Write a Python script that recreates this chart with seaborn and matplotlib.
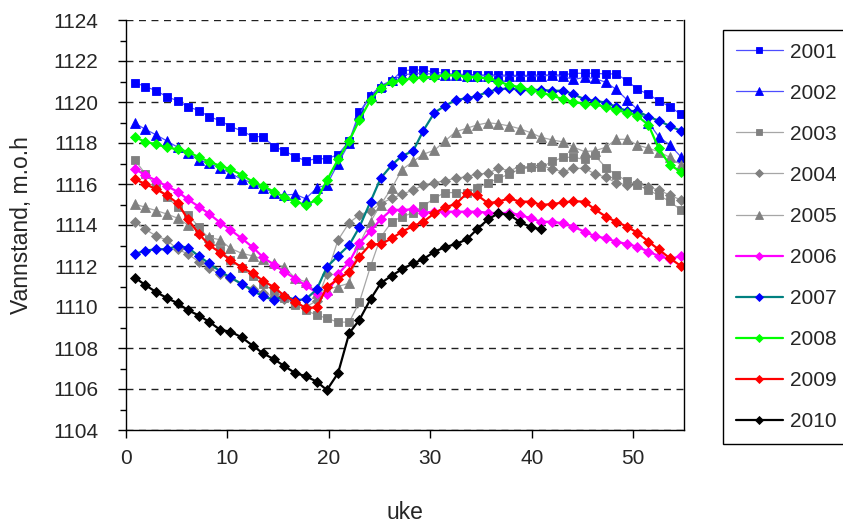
import numpy as np
import pandas as pd
import matplotlib
matplotlib.use("Agg")
import matplotlib.pyplot as plt
import seaborn as sns
from matplotlib.ticker import MultipleLocator

# x positions (uke) of the weekly readings
uke = [0.9, 1.9, 3.0, 4.0, 5.1, 6.1, 7.2, 8.2, 9.3, 10.3,
       11.4, 12.5, 13.5, 14.6, 15.6, 16.7, 17.7, 18.8, 19.8, 20.9,
       22.0, 23.0, 24.1, 25.1, 26.2, 27.2, 28.3, 29.3, 30.4, 31.4,
       32.5, 33.6, 34.6, 35.7, 36.7, 37.8, 38.8, 39.9, 40.9, 42.0,
       43.1, 44.1, 45.2, 46.2, 47.3, 48.3, 49.4, 50.4, 51.5, 52.5,
       53.6, 54.7]

v2001 = [1120.95, 1120.75, 1120.55, 1120.26, 1120.06, 1119.77, 1119.58, 1119.28, 1119.09, 1118.80,
         1118.60, 1118.31, 1118.31, 1117.82, 1117.62, 1117.33, 1117.14, 1117.23, 1117.23, 1117.43,
         1118.10, 1119.50, 1120.30, 1120.70, 1121.04, 1121.53, 1121.56, 1121.56, 1121.45, 1121.40,
         1121.35, 1121.35, 1121.32, 1121.32, 1121.32, 1121.30, 1121.30, 1121.30, 1121.32, 1121.32,
         1121.32, 1121.40, 1121.40, 1121.40, 1121.37, 1121.37, 1121.04, 1120.62, 1120.38, 1120.06,
         1119.77, 1119.40]
v2002 = [1118.96, 1118.67, 1118.39, 1118.11, 1117.79, 1117.50, 1117.17, 1117.01, 1116.77, 1116.52,
         1116.23, 1116.06, 1115.82, 1115.55, 1115.46, 1115.50, 1115.28, 1115.80, 1115.97, 1117.00,
         1118.00, 1119.40, 1120.30, 1120.80, 1121.05, 1121.30, 1121.40, 1121.40, 1121.35, 1121.30,
         1121.30, 1121.28, 1121.28, 1121.28, 1121.28, 1121.25, 1121.25, 1121.25, 1121.28, 1121.30,
         1121.25, 1121.10, 1121.20, 1121.15, 1120.96, 1120.62, 1120.10, 1119.64, 1119.00, 1118.31,
         1117.90, 1117.33]
v2003 = [1117.15, 1116.50, 1115.90, 1115.35, 1114.90, 1114.50, 1113.90, 1113.30, 1112.80, 1112.30,
         1111.90, 1111.50, 1111.10, 1110.80, 1110.45, 1110.10, 1109.84, 1109.61, 1109.45, 1109.26,
         1109.26, 1110.23, 1111.98, 1113.40, 1114.16, 1114.40, 1114.60, 1114.93, 1115.30, 1115.58,
         1115.58, 1115.58, 1115.79, 1116.06, 1116.28, 1116.49, 1116.72, 1116.81, 1116.81, 1117.10,
         1117.30, 1117.30, 1117.20, 1117.40, 1116.80, 1116.45, 1116.15, 1115.95, 1115.70, 1115.45,
         1115.15, 1114.73]
v2004 = [1114.16, 1113.79, 1113.46, 1113.27, 1112.81, 1112.59, 1112.20, 1111.90, 1111.60, 1111.40,
         1111.10, 1110.90, 1110.70, 1110.50, 1110.40, 1110.20, 1110.00, 1110.30, 1111.60, 1113.27,
         1114.11, 1114.49, 1114.70, 1115.05, 1115.30, 1115.50, 1115.70, 1115.95, 1116.06, 1116.16,
         1116.28, 1116.36, 1116.49, 1116.52, 1116.77, 1116.65, 1116.84, 1116.84, 1116.93, 1116.72,
         1116.60, 1116.77, 1116.76, 1116.50, 1116.33, 1116.06, 1115.95, 1116.06, 1115.84, 1115.71,
         1115.46, 1115.22]
v2005 = [1115.02, 1114.86, 1114.70, 1114.54, 1114.33, 1114.00, 1113.75, 1113.40, 1113.27, 1112.86,
         1112.62, 1112.49, 1112.33, 1112.13, 1111.94, 1111.40, 1111.23, 1110.70, 1110.85, 1111.00,
         1111.16, 1113.07, 1114.16, 1115.00, 1115.80, 1116.70, 1117.10, 1117.45, 1117.65, 1118.08,
         1118.55, 1118.72, 1118.88, 1118.99, 1118.93, 1118.83, 1118.70, 1118.50, 1118.28, 1118.15,
         1118.05, 1117.80, 1117.58, 1117.62, 1117.79, 1118.18, 1118.18, 1117.90, 1117.74, 1117.58,
         1117.30, 1116.93]
v2006 = [1116.72, 1116.44, 1116.16, 1115.90, 1115.62, 1115.25, 1114.89, 1114.54, 1114.11, 1113.76,
         1113.35, 1112.91, 1112.43, 1112.05, 1111.72, 1111.38, 1111.05, 1110.70, 1110.62, 1111.60,
         1112.20, 1113.10, 1113.70, 1114.28, 1114.75, 1114.73, 1114.77, 1114.60, 1114.65, 1114.65,
         1114.65, 1114.65, 1114.65, 1114.60, 1114.57, 1114.60, 1114.49, 1114.33, 1114.16, 1114.16,
         1114.08, 1113.92, 1113.67, 1113.46, 1113.35, 1113.19, 1113.07, 1112.94, 1112.70, 1112.49,
         1112.33, 1112.49]
v2007 = [1112.59, 1112.75, 1112.82, 1112.82, 1112.97, 1112.90, 1112.47, 1112.13, 1111.73, 1111.44,
         1111.13, 1110.80, 1110.52, 1110.34, 1110.55, 1110.34, 1110.37, 1110.86, 1111.95, 1112.50,
         1113.02, 1113.89, 1115.14, 1116.28, 1116.93, 1117.37, 1117.61, 1118.60, 1119.48, 1119.80,
         1120.10, 1120.18, 1120.29, 1120.50, 1120.62, 1120.67, 1120.59, 1120.59, 1120.59, 1120.55,
         1120.55, 1120.38, 1120.13, 1120.06, 1119.97, 1119.77, 1119.56, 1119.56, 1119.28, 1119.09,
         1118.83, 1118.59]
v2008 = [1118.28, 1118.06, 1117.93, 1117.79, 1117.69, 1117.58, 1117.30, 1117.09, 1116.88, 1116.72,
         1116.44, 1116.11, 1115.90, 1115.62, 1115.35, 1115.14, 1114.98, 1115.22, 1116.18, 1117.20,
         1118.10, 1119.12, 1120.10, 1120.70, 1120.99, 1121.07, 1121.15, 1121.20, 1121.23, 1121.30,
         1121.30, 1121.23, 1121.20, 1121.15, 1120.99, 1120.83, 1120.72, 1120.59, 1120.45, 1120.32,
         1120.13, 1120.01, 1119.90, 1119.90, 1119.74, 1119.61, 1119.48, 1119.32, 1118.88, 1117.74,
         1116.93, 1116.60]
v2009 = [1116.23, 1116.00, 1115.74, 1115.46, 1115.06, 1114.28, 1113.56, 1113.02, 1112.65, 1112.29,
         1111.94, 1111.64, 1111.28, 1110.96, 1110.55, 1110.26, 1109.95, 1109.98, 1110.97, 1111.35,
         1111.72, 1112.45, 1113.06, 1113.06, 1113.35, 1113.67, 1113.95, 1114.16, 1114.57, 1114.86,
         1115.02, 1115.55, 1115.46, 1115.06, 1115.14, 1115.30, 1115.14, 1115.14, 1114.98, 1115.02,
         1115.10, 1115.16, 1115.14, 1114.77, 1114.41, 1114.16, 1113.92, 1113.62, 1113.19, 1112.81,
         1112.38, 1112.00]
v2010 = [1111.43, 1111.07, 1110.72, 1110.45, 1110.18, 1109.85, 1109.58, 1109.28, 1108.88, 1108.80,
         1108.52, 1108.11, 1107.74, 1107.45, 1107.12, 1106.77, 1106.63, 1106.36, 1105.95, 1106.77,
         1108.72, 1109.37, 1110.38, 1111.16, 1111.53, 1111.84, 1112.13, 1112.33, 1112.70, 1112.91,
         1113.07, 1113.30, 1113.79, 1114.28, 1114.57, 1114.49, 1114.16, 1113.89, 1113.79]

years = ["2001", "2002", "2003", "2004", "2005", "2006", "2007", "2008", "2009", "2010"]
series = [v2001, v2002, v2003, v2004, v2005, v2006, v2007, v2008, v2009, v2010]

# style per year: line colour, marker, marker colour, line width, marker size
styles = {
    "2001": ("#4D4DFF", "s", "#0000FF", 0.9, 5.6),
    "2002": ("#4D4DFF", "^", "#0000FF", 0.9, 6.8),
    "2003": ("#A6A6A6", "s", "#808080", 0.9, 5.6),
    "2004": ("#A6A6A6", "D", "#808080", 0.9, 5.0),
    "2005": ("#A6A6A6", "^", "#808080", 0.9, 6.8),
    "2006": ("#FF00FF", "D", "#FF00FF", 1.6, 5.0),
    "2007": ("#008080", "D", "#0000FF", 1.6, 5.0),
    "2008": ("#00FF00", "D", "#00FF00", 1.6, 5.0),
    "2009": ("#FF0000", "D", "#FF0000", 1.6, 5.0),
    "2010": ("#000000", "D", "#000000", 1.6, 5.0),
}

sns.set_style("white")
plt.rcParams['font.family'] = ['Liberation Sans', 'DejaVu Sans']

W, H = 843, 525
fig = plt.figure(figsize=(W / 100, H / 100), dpi=100)
ax = fig.add_axes([126 / W, 1 - 430 / H, (684 - 126) / W, 410 / H])

for name, vals in zip(years, series):
    lc, mk, mc, lw, ms = styles[name]
    n = len(vals)
    sns.lineplot(x=uke[:n], y=vals, ax=ax, color=lc, linewidth=lw,
                 marker=mk, markersize=ms, markerfacecolor=mc,
                 markeredgecolor=mc, markeredgewidth=0.6,
                 label=name, estimator=None, sort=False)

ax.set_xlim(0, 55)
ax.set_ylim(1104, 1124)
ax.xaxis.set_major_locator(MultipleLocator(10))
ax.yaxis.set_major_locator(MultipleLocator(2))
ax.yaxis.set_minor_locator(MultipleLocator(1))
ax.tick_params(axis='y', which='major', labelsize=15, direction='out',
               length=6, width=1, color='black', left=True, pad=14)
ax.tick_params(axis='x', which='major', labelsize=15, direction='out',
               length=6, width=1, color='black', bottom=True, pad=8)
ax.tick_params(axis='y', which='minor', direction='out', length=4, width=1,
               color='black', left=True)
ax.yaxis.grid(True, which='major', linestyle=(0, (5, 4)), color='#202020', linewidth=1)
ax.xaxis.grid(False)

for side in ['left', 'bottom', 'right']:
    ax.spines[side].set_visible(True)
    ax.spines[side].set_color('black')
    ax.spines[side].set_linewidth(1)
ax.spines['top'].set_visible(False)

ax.set_xlabel("uke", fontsize=16.5)
ax.set_ylabel("Vannstand, m.o.h", fontsize=16.5)
ax.xaxis.set_label_coords(0.5, -0.172)
ax.yaxis.set_label_coords(-0.166, 0.5)

handles, labels = ax.get_legend_handles_labels()
leg = ax.legend(handles, labels, loc='upper left',
                bbox_to_anchor=(723 / W, 1 - 30 / H), bbox_transform=fig.transFigure,
                frameon=True, fancybox=False, edgecolor='black', framealpha=1,
                fontsize=15, handlelength=2.3, handletextpad=0.3,
                labelspacing=1.06, borderpad=0.6, borderaxespad=0, markerscale=0.75)
leg.get_frame().set_linewidth(1)

fig.savefig("out.png", dpi=100)
